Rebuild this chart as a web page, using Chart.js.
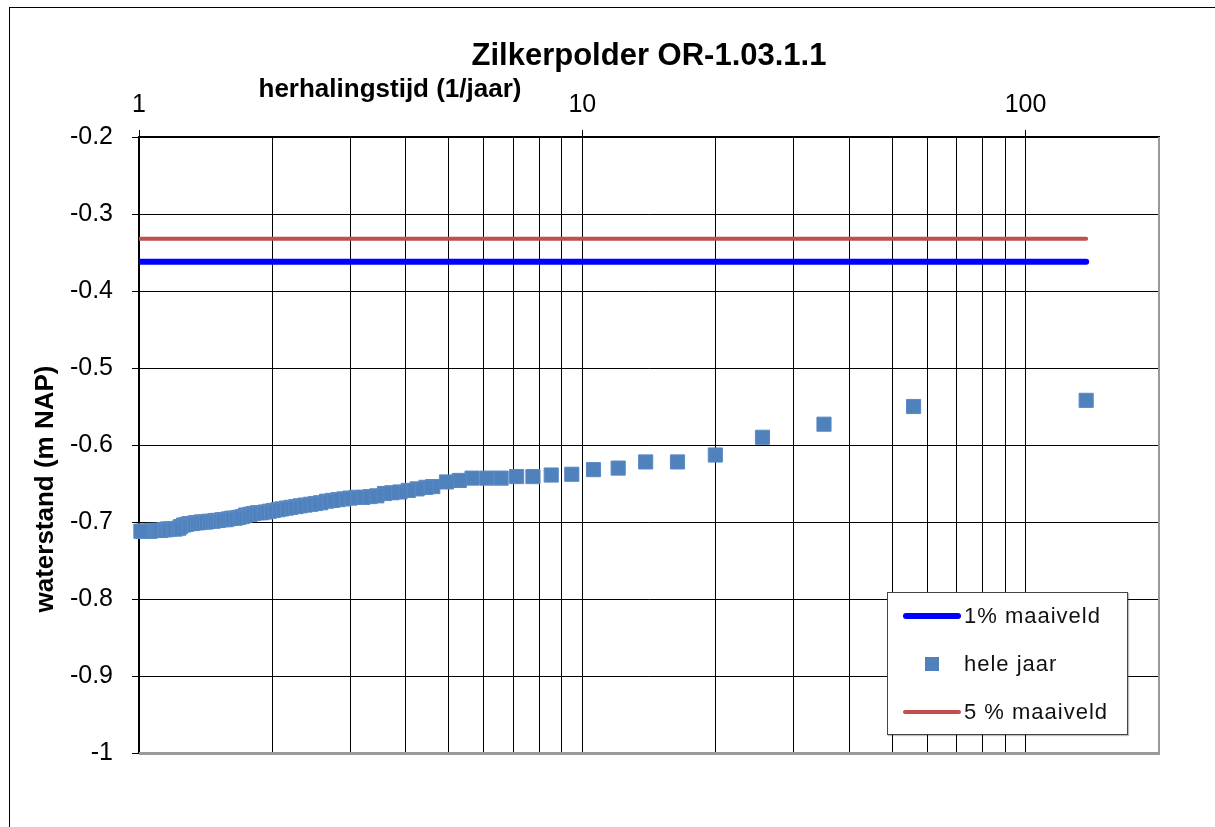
<!DOCTYPE html>
<html>
<head>
<meta charset="utf-8">
<title>Zilkerpolder OR-1.03.1.1</title>
<script src="https://cdn.jsdelivr.net/npm/chart.js@4.4.0/dist/chart.umd.min.js"></script>
<style>
  html, body { margin: 0; padding: 0; background: #fff; }
  #wrap { position: relative; width: 1215px; height: 827px; overflow: hidden; }
  #frame { position: absolute; left: 9px; top: 7px; width: 1400px; height: 1000px; border: 1px solid #000; }
  #chart { position: absolute; left: 0; top: 0; }
  #legend {
    position: absolute; left: 887px; top: 592px; width: 239px; height: 141px;
    border: 1px solid #444; background: #fff; box-shadow: 1px 1px 1px rgba(0,0,0,0.25);
    font-family: "Liberation Sans", Arial, sans-serif; font-size: 22px; letter-spacing: 1px; color: #111;
  }
  .row { position: absolute; left: 0; height: 48px; width: 100%; }
  .row span { position: absolute; left: 76px; top: 10px; }
  .sw { position: absolute; }
</style>
</head>
<body>
<div id="wrap">
  <div id="frame"></div>
  <canvas id="chart" width="1215" height="827"></canvas>
  <div id="legend"></div>
</div>
<script>
// data
const chartTitle = 'Zilkerpolder OR-1.03.1.1';
const xTitle = 'herhalingstijd (1/jaar)';
const yTitle = 'waterstand (m NAP)';

// herhalingstijd (jaar) of each measured point, highest first
const herhalingstijd = [137, 55.9, 35.1, 25.5, 19.96, 16.4, 13.9, 12.05, 10.6, 9.47,
  8.51, 7.74, 7.11, 6.56, 6.09, 5.64, 5.28, 4.94, 4.60, 4.44,
  4.24, 4.05, 3.88, 3.72, 3.58, 3.44, 3.32, 3.20, 3.09, 2.99,
  2.90, 2.81, 2.73, 2.65, 2.57, 2.50, 2.44, 2.37, 2.31, 2.26,
  2.20, 2.15, 2.10, 2.06, 2.01, 1.97, 1.93, 1.89, 1.85, 1.81,
  1.78, 1.74, 1.71, 1.68, 1.65, 1.62, 1.59, 1.57, 1.54, 1.51,
  1.49, 1.47, 1.44, 1.42, 1.40, 1.38, 1.36, 1.34, 1.32, 1.30,
  1.28, 1.26, 1.24, 1.23, 1.21, 1.20, 1.18, 1.16, 1.15, 1.14,
  1.12, 1.11, 1.09, 1.08, 1.07, 1.06, 1.04, 1.03, 1.02, 1.01];
// waterstand "hele jaar" (m NAP)
const heleJaar = [-0.542, -0.550, -0.573, -0.590, -0.613, -0.622, -0.622, -0.630, -0.632, -0.638,
  -0.639, -0.641, -0.641, -0.643, -0.643, -0.643, -0.646, -0.648, -0.654, -0.655,
  -0.657, -0.659, -0.661, -0.662, -0.663, -0.666, -0.667, -0.668, -0.668, -0.669,
  -0.670, -0.671, -0.672, -0.673, -0.675, -0.676, -0.677, -0.678, -0.679, -0.680,
  -0.681, -0.682, -0.683, -0.684, -0.685, -0.686, -0.687, -0.688, -0.688, -0.689,
  -0.690, -0.691, -0.693, -0.694, -0.695, -0.695, -0.696, -0.697, -0.697, -0.698,
  -0.698, -0.699, -0.699, -0.700, -0.700, -0.700, -0.701, -0.701, -0.702, -0.702,
  -0.703, -0.704, -0.706, -0.708, -0.709, -0.709, -0.709, -0.709, -0.710, -0.710,
  -0.711, -0.711, -0.711, -0.711, -0.711, -0.712, -0.712, -0.712, -0.712, -0.712];

const lineRange = [1, 137];
const maaiveld1 = [-0.362, -0.362];
const maaiveld5 = [-0.332, -0.332];

const xTickVals = [1, 2, 3, 4, 5, 6, 7, 8, 9, 10, 20, 30, 40, 50, 60, 70, 80, 90, 100, 200];
const xLabelVals = [1, 10, 100];
const yTickVals = [-1, -0.9, -0.8, -0.7, -0.6, -0.5, -0.4, -0.3, -0.2];
const yTickLabels = ['-1', '-0.9', '-0.8', '-0.7', '-0.6', '-0.5', '-0.4', '-0.3', '-0.2'];

const FONT = '"Liberation Sans", Arial, sans-serif';

const toPts = (xs, ys) => xs.map((x, i) => ({x: x, y: ys[i]}));

// axis titles sit off-centre in the original, so draw them by hand
const axisTitles = {
  id: 'axisTitles',
  beforeDatasetsDraw(chart) {
    const {ctx, chartArea} = chart;
    ctx.save();
    ctx.strokeStyle = '#9a9a9a';
    ctx.lineWidth = 3;
    ctx.beginPath();
    ctx.moveTo(chartArea.left, chartArea.bottom + 0.5);
    ctx.lineTo(chartArea.right + 1, chartArea.bottom + 0.5);
    ctx.stroke();
    ctx.lineWidth = 2;
    ctx.beginPath();
    ctx.moveTo(chartArea.right, chartArea.top);
    ctx.lineTo(chartArea.right, chartArea.bottom);
    ctx.stroke();
    ctx.restore();
  },
  afterDraw(chart) {
    const {ctx, chartArea} = chart;
    ctx.save();
    ctx.fillStyle = '#000';
    ctx.font = 'bold 26px ' + FONT;
    ctx.textAlign = 'center';
    ctx.textBaseline = 'alphabetic';
    ctx.fillText(xTitle, chartArea.left + 251, chartArea.top - 40);
    ctx.translate(46, chartArea.top + 352);
    ctx.rotate(-Math.PI / 2);
    ctx.font = 'bold 26px ' + FONT;
    ctx.textBaseline = 'middle';
    ctx.fillText(yTitle, 0, 0);
    ctx.restore();
  }
};

const chart = new Chart(document.getElementById('chart'), {
  type: 'scatter',
  data: {
    datasets: [
      {
        label: '1% maaiveld',
        data: toPts(lineRange, maaiveld1),
        showLine: true,
        borderColor: '#0000ff',
        borderWidth: 6,
        borderCapStyle: 'round',
        pointRadius: 0,
        pointHoverRadius: 0
      },
      {
        label: 'hele jaar',
        data: toPts(herhalingstijd, heleJaar),
        pointStyle: 'rect',
        pointRadius: 10,
        pointHoverRadius: 10,
        backgroundColor: '#4f81bd',
        borderColor: '#5a8ac4',
        borderWidth: 1,
        clip: 12
      },
      {
        label: '5 % maaiveld',
        data: toPts(lineRange, maaiveld5),
        showLine: true,
        borderColor: '#c0504d',
        borderWidth: 4,
        borderCapStyle: 'round',
        pointRadius: 0,
        pointHoverRadius: 0
      }
    ]
  },
  options: {
    responsive: false,
    animation: false,
    events: [],
    layout: { padding: { left: 0, right: 56, top: 0, bottom: 74 } },
    plugins: {
      legend: { display: false },
      tooltip: { enabled: false },
      title: {
        display: true,
        text: chartTitle,
        fullSize: false,
        color: '#000',
        font: { family: FONT, size: 31, weight: 'bold' },
        padding: { top: 38, bottom: 0 }
      }
    },
    scales: {
      x: {
        type: 'logarithmic',
        position: 'top',
        min: 1,
        max: 200,
        afterBuildTicks: (scale) => { scale.ticks = xTickVals.map(v => ({value: v})); },
        afterFit: (scale) => { scale.height = 61.8; },
        border: { color: '#000', width: 2 },
        grid: {
          color: '#000',
          lineWidth: 1,
          tickLength: 7,
          tickColor: (ctx) => (ctx.tick && xLabelVals.includes(ctx.tick.value)) ? '#000' : 'rgba(0,0,0,0)'
        },
        ticks: {
          autoSkip: false,
          maxRotation: 0,
          padding: 10,
          color: '#000',
          font: { family: FONT, size: 25 },
          callback: (v) => xLabelVals.includes(v) ? String(v) : ''
        }
      },
      y: {
        type: 'linear',
        min: -1,
        max: -0.2,
        afterBuildTicks: (scale) => { scale.ticks = yTickVals.map(v => ({value: v})); },
        afterFit: (scale) => { scale.width = 139; },
        border: { color: '#000', width: 1.5 },
        grid: { color: '#000', lineWidth: 1, tickLength: 7, tickColor: '#000' },
        ticks: {
          padding: 19,
          color: '#000',
          font: { family: FONT, size: 25 },
          callback: (v, i) => yTickLabels[i]
        }
      }
    }
  },
  plugins: [axisTitles]
});

// legend box inside the plot, built from the datasets
const legend = document.getElementById('legend');
chart.data.datasets.forEach((ds, i) => {
  const row = document.createElement('div');
  row.className = 'row';
  row.style.top = (i * 48) + 'px';
  const sw = document.createElement('div');
  sw.className = 'sw';
  if (ds.showLine) {
    sw.style.left = '15px';
    sw.style.width = '58px';
    sw.style.height = ds.borderWidth + 'px';
    sw.style.top = (23 - ds.borderWidth / 2) + 'px';
    sw.style.borderRadius = ds.borderWidth + 'px';
    sw.style.background = ds.borderColor;
  } else {
    sw.style.left = '37px';
    sw.style.top = '16px';
    sw.style.width = '14px';
    sw.style.height = '14px';
    sw.style.background = ds.backgroundColor;
  }
  const txt = document.createElement('span');
  txt.textContent = ds.label;
  row.appendChild(sw);
  row.appendChild(txt);
  legend.appendChild(row);
});
</script>
</body>
</html>
